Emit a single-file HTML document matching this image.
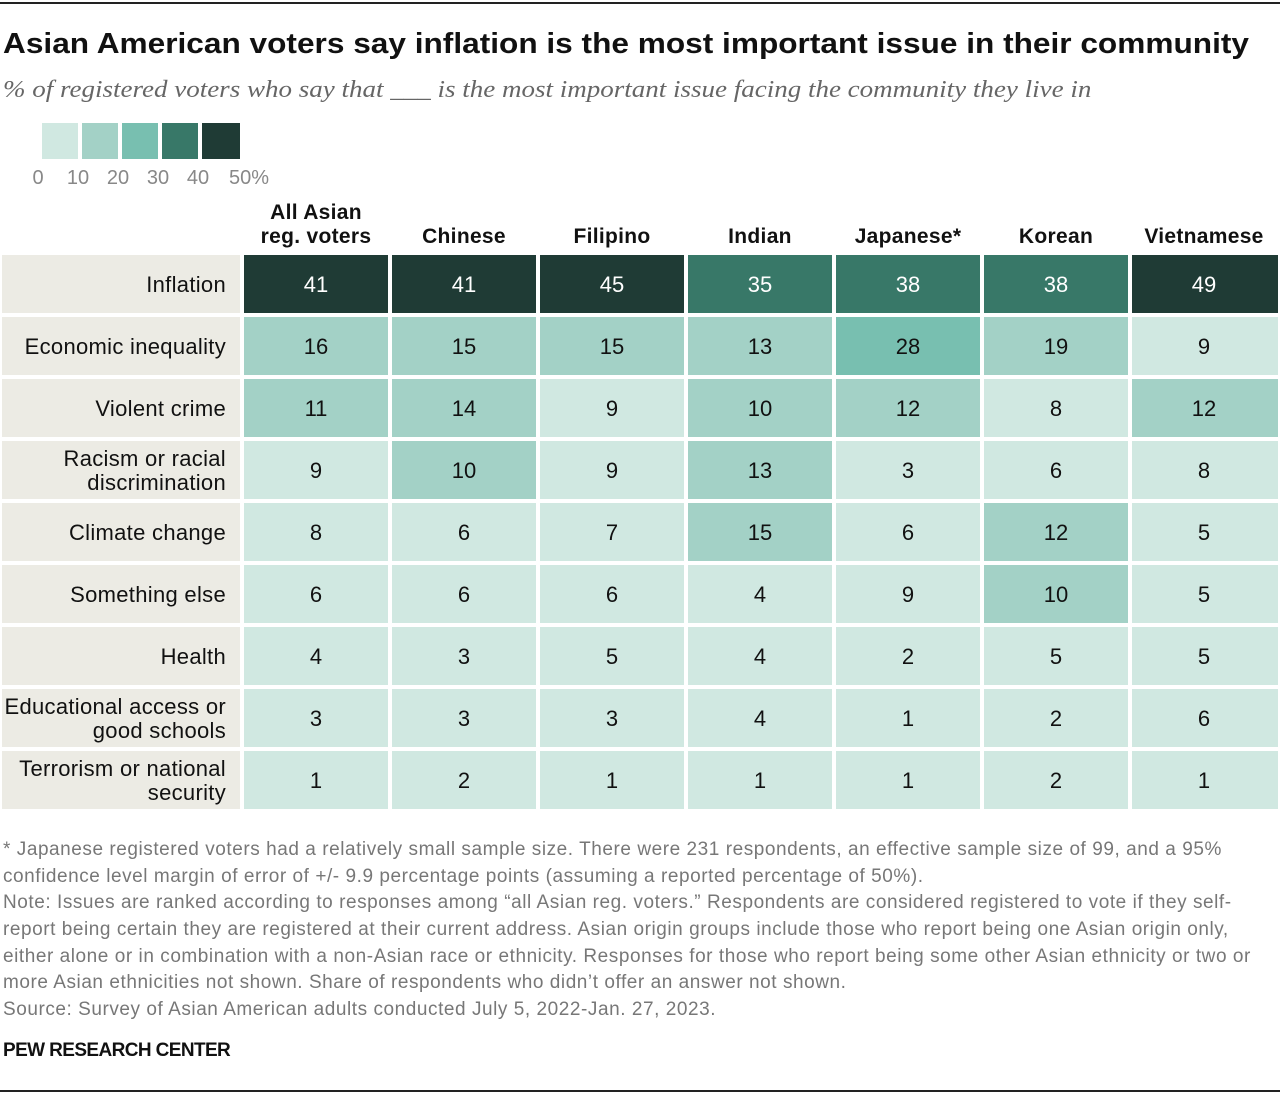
<!DOCTYPE html>
<html><head><meta charset="utf-8"><style>
body{margin:0;width:1280px;height:1096px;background:#fff;font-family:"Liberation Sans",sans-serif;position:relative;overflow:hidden}
.a{position:absolute}
.note{position:absolute;left:3px;font-size:19px;color:#777;white-space:nowrap;letter-spacing:0.55px}
</style></head><body>
<div class="a" style="left:0;top:2px;width:1280px;height:2px;background:#222"></div>
<div class="a" style="left:3px;top:28px;font-size:29px;font-weight:bold;color:#111;white-space:nowrap;transform-origin:0 0;transform:scaleX(1.09)">Asian American voters say inflation is the most important issue in their community</div>
<div class="a" style="left:3px;top:77px;font-size:24px;font-style:italic;font-family:'Liberation Serif',serif;color:#666;white-space:nowrap;transform-origin:0 0;transform:scaleX(1.125)">% of registered voters who say that ___ is the most important issue facing the community they live in</div>
<svg class="a" style="left:0;top:0" width="1280" height="820" id="chart"></svg>
<div id="notes">
<div class="note" style="top:839px">* Japanese registered voters had a relatively small sample size. There were 231 respondents, an effective sample size of 99, and a 95%</div>
<div class="note" style="top:866px">confidence level margin of error of +/- 9.9 percentage points (assuming a reported percentage of 50%).</div>
<div class="note" style="top:892px">Note: Issues are ranked according to responses among “all Asian reg. voters.” Respondents are considered registered to vote if they self-</div>
<div class="note" style="top:919px">report being certain they are registered at their current address. Asian origin groups include those who report being one Asian origin only,</div>
<div class="note" style="top:946px">either alone or in combination with a non-Asian race or ethnicity. Responses for those who report being some other Asian ethnicity or two or</div>
<div class="note" style="top:972px">more Asian ethnicities not shown. Share of respondents who didn’t offer an answer not shown.</div>
<div class="note" style="top:999px">Source: Survey of Asian American adults conducted July 5, 2022-Jan. 27, 2023.</div>
</div>
<div class="a" style="left:3px;top:1040px;font-size:19px;font-weight:bold;color:#111;letter-spacing:-0.6px">PEW RESEARCH CENTER</div>
<div class="a" style="left:0;top:1090px;width:1280px;height:2px;background:#222"></div>
<script>
const columns=["All Asian|reg. voters","Chinese","Filipino","Indian","Japanese*","Korean","Vietnamese"];
const issues=["Inflation","Economic inequality","Violent crime","Racism or racial|discrimination","Climate change","Something else","Health","Educational access or|good schools","Terrorism or national|security"];
const allAsian=[41,16,11,9,8,6,4,3,1];
const chinese=[41,15,14,10,6,6,3,3,2];
const filipino=[45,15,9,9,7,6,5,3,1];
const indian=[35,13,10,13,15,4,4,4,1];
const japanese=[38,28,12,3,6,9,2,1,1];
const korean=[38,19,8,6,12,10,5,2,2];
const vietnamese=[49,9,12,8,5,5,5,6,1];
const legendTicks=["0","10","20","30","40","50%"];
const series=[allAsian,chinese,filipino,indian,japanese,korean,vietnamese];
const colors=["#d0e8e1","#a3d1c6","#78bfb0","#387868","#1f3b35"];
const NS="http://www.w3.org/2000/svg";
const svg=document.getElementById('chart');
function mk(t,a,p){const e=document.createElementNS(NS,t);for(const k in a)e.setAttribute(k,a[k]);(p||svg).appendChild(e);return e;}
function colX(i){return 244+i*148;}
function rowY(j){return 255+j*62;}
function bin(v){return Math.min(4,Math.floor(v/10));}
for(let i=0;i<5;i++){const r=mk('rect',{x:42+i*40,y:123,width:i==4?38:36,height:36,fill:colors[i]});

}
legendTicks.forEach((t,i)=>{const last=i==legendTicks.length-1;const e=mk('text',{x:last?229:38+i*40,y:184,'font-size':20,fill:'#888','text-anchor':last?'start':'middle','font-family':'Liberation Sans'});e.textContent=t;

});
columns.forEach((c,i)=>{const parts=c.split('|');parts.forEach((p,k)=>{const e=mk('text',{x:colX(i)+72,y:243-(parts.length-1-k)*24,'font-size':21,'font-weight':'bold','letter-spacing':0.3,fill:'#111','text-anchor':'middle','font-family':'Liberation Sans'});e.textContent=p;

});});
issues.forEach((is,j)=>{const y=rowY(j);const r=mk('rect',{x:2,y:y,width:238,height:58,fill:'#ecebe4'});


const parts=is.split('|');parts.forEach((p,k)=>{const e=mk('text',{x:226,y:y+37+(k-(parts.length-1)/2)*24,'font-size':22,'letter-spacing':0.3,fill:'#111','text-anchor':'end','font-family':'Liberation Sans'});e.textContent=p;

});
series.forEach((s,i)=>{const v=s[j];const b=bin(v);const c=mk('rect',{x:colX(i),y:y,width:i==6?146:144,height:58,fill:colors[b]});


const t=mk('text',{x:colX(i)+72,y:y+37,'font-size':22,fill:b>=3?'#fff':'#111','text-anchor':'middle','font-family':'Liberation Sans'});t.textContent=v;

});});
</script>
</body></html>
